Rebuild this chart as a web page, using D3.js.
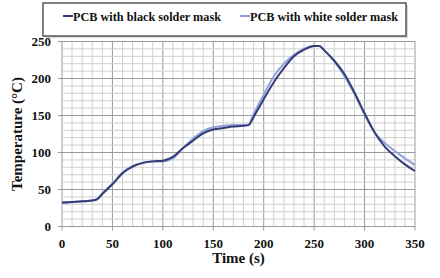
<!DOCTYPE html>
<html>
<head>
<meta charset="utf-8">
<script src="https://cdn.jsdelivr.net/npm/d3@7"></script>
<style>
  body { margin: 0; background: #fff; }
  text { font-family: "Liberation Serif", "Times New Roman", serif; font-weight: bold; fill: #111; }
</style>
</head>
<body>
<svg id="chart" width="440" height="278"></svg>
<script>
// time (s) for each reading
const times = [0, 10, 20, 30, 35, 40, 50, 60, 70, 80, 90, 100, 110, 120, 130, 140, 150, 160, 170, 180, 185, 190,
    200, 210, 220, 230, 240, 250, 255, 260, 270, 280, 290, 300, 310, 320, 330, 340, 350];
const blackMask = [32, 33, 34, 35, 37, 44, 57, 72, 81, 86, 88, 89, 94, 106, 116, 126, 131, 133, 135, 136, 137, 148,
    172, 195, 214, 230, 239, 244, 244, 238, 224, 206, 181, 153, 127, 108, 95, 84, 75];
const whiteMask = [33, 33, 34, 35, 37, 45, 58, 73, 82, 86, 88, 88, 92, 106, 119, 129, 134, 136, 137, 137, 138, 152,
    178, 203, 220, 232, 240, 244, 244, 238, 223, 203, 179, 151, 127, 113, 102, 92, 83];
const seriesNames = ['PCB with black solder mask', 'PCB with white solder mask'];
const xTicks = [0, 50, 100, 150, 200, 250, 300, 350];
const yTicks = [0, 50, 100, 150, 200, 250];

const colors = ['#363b78', '#8ea3db'];
const svg = d3.select('#chart');
const margin = {left: 62, right: 25, top: 41.5, bottom: 51.5};
const W = 440, H = 278;

const x = d3.scaleLinear().domain([0, 350]).range([margin.left, W - margin.right]);
const y = d3.scaleLinear().domain([0, 250]).range([H - margin.bottom, margin.top]);

// grid: minor every 10, major every 50
const grid = svg.append('g').attr('class', 'grid');
grid.selectAll('line.vx')
    .data(d3.range(0, 351, 10))
    .enter().append('line')
    .attr('x1', d => x(d)).attr('x2', d => x(d))
    .attr('y1', y(250)).attr('y2', d => d % 50 === 0 ? y(0) + 4 : y(0))
    .attr('stroke', d => d % 50 === 0 ? '#9a9a9a' : '#cfcfcf')
    .attr('stroke-width', 1);
grid.selectAll('line.hy')
    .data(d3.range(0, 251, 10))
    .enter().append('line')
    .attr('y1', d => y(d)).attr('y2', d => y(d))
    .attr('x1', d => d % 50 === 0 ? x(0) - 4 : x(0)).attr('x2', x(350))
    .attr('stroke', d => d % 50 === 0 ? '#9a9a9a' : '#cfcfcf')
    .attr('stroke-width', 1);

// axis labels
svg.append('g').selectAll('text')
    .data(xTicks)
    .enter().append('text')
    .attr('x', d => x(d))
    .attr('y', y(0) + 21)
    .attr('text-anchor', 'middle')
    .attr('font-size', 13)
    .text(d => d);
svg.append('g').selectAll('text')
    .data(yTicks)
    .enter().append('text')
    .attr('x', x(0) - 11)
    .attr('y', d => y(d) + 4.5)
    .attr('text-anchor', 'end')
    .attr('font-size', 13)
    .text(d => d);

svg.append('text')
    .attr('x', (x(0) + x(350)) / 2)
    .attr('y', 263)
    .attr('text-anchor', 'middle')
    .attr('font-size', 15)
    .text('Time (s)');
svg.append('text')
    .attr('transform', `translate(22,${(y(0) + y(250)) / 2}) rotate(-90)`)
    .attr('text-anchor', 'middle')
    .attr('font-size', 15)
    .text('Temperature (°C)');

// curves
const line = d3.line()
    .x(d => x(d[0]))
    .y(d => y(d[1]))
    .curve(d3.curveMonotoneX);
[whiteMask, blackMask].forEach((vals, i) => {
    svg.append('path')
        .datum(times.map((t, j) => [t, vals[j]]))
        .attr('d', line)
        .attr('fill', 'none')
        .attr('stroke', i === 0 ? colors[1] : colors[0])
        .attr('stroke-width', 2);
});

// legend
const legend = svg.append('g');
legend.append('rect')
    .attr('x', 45).attr('y', 5).attr('width', 363).attr('height', 33)
    .attr('fill', '#d8d8d8');
legend.append('rect')
    .attr('x', 43).attr('y', 3).attr('width', 363).attr('height', 33)
    .attr('fill', '#fff').attr('stroke', '#555').attr('stroke-width', 1.5);
const legendX = [63, 240];
seriesNames.forEach((name, i) => {
    legend.append('line')
        .attr('x1', legendX[i]).attr('x2', legendX[i] + 10)
        .attr('y1', 16).attr('y2', 16)
        .attr('stroke', colors[i]).attr('stroke-width', 2);
    legend.append('text')
        .attr('x', legendX[i] + 10)
        .attr('y', 20.5)
        .attr('font-size', 12.5)
        .attr('textLength', 148)
        .attr('lengthAdjust', 'spacingAndGlyphs')
        .text(name);
});
</script>
</body>
</html>
